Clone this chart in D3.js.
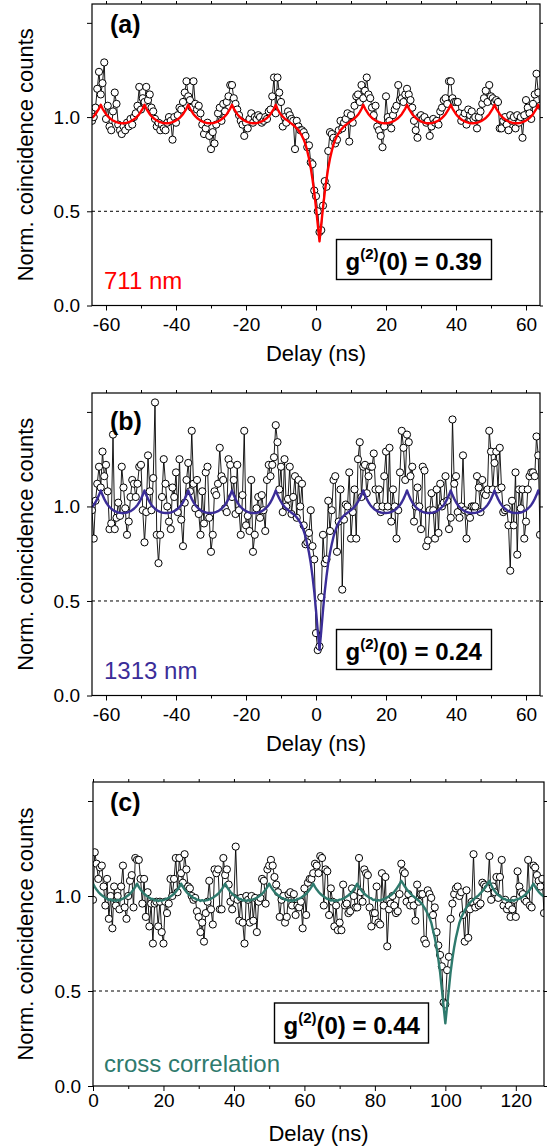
<!DOCTYPE html>
<html>
<head>
<meta charset="utf-8">
<title>g2 correlation</title>
<style>
  html, body { margin: 0; padding: 0; background: #fff; }
  svg { display: block; font-family: "Liberation Sans", Arial, Helvetica, sans-serif; }
</style>
</head>
<body>
<div id="chart"></div>
<script src="https://cdn.jsdelivr.net/npm/d3@7/dist/d3.min.js"></script>
<script>
// bin width of the coincidence histograms (ns)
var DELAY_STEP = 0.5;

// panel (a) 711 nm autocorrelation, delays -64 ... 64 ns
var A_START = -64;
var A_COUNTS = [
  0.98, 1.00, 1.05, 1.15, 1.24, 1.12, 1.18, 1.29,
  0.99, 1.06, 0.95, 0.93, 1.03, 1.13, 1.07, 0.96,
  0.93, 0.91, 0.95, 0.93, 0.97, 0.95, 0.99, 0.96,
  1.00, 1.02, 1.06, 1.16, 1.04, 1.10, 1.08, 1.16,
  1.09, 1.12, 1.05, 1.03, 0.99, 0.95, 0.97, 0.93,
  0.96, 0.94, 0.93, 0.97, 1.00, 0.98, 0.88, 1.00,
  0.97, 1.01, 1.05, 1.04, 1.08, 1.13, 1.19, 1.11,
  1.09, 1.05, 1.19, 1.07, 1.04, 1.06, 1.02, 0.96,
  0.91, 0.94, 0.97, 0.90, 0.83, 0.92, 0.86, 0.96,
  1.02, 1.05, 0.98, 1.07, 1.03, 1.08, 1.11, 1.17,
  1.17, 1.10, 1.07, 1.04, 1.01, 0.98, 0.96, 0.90,
  0.97, 0.94, 0.99, 1.02, 0.97, 1.00, 0.99, 1.01,
  1.00, 0.97, 0.98, 1.00, 0.99, 1.03, 1.04, 1.11,
  1.21, 1.02, 1.21, 1.13, 1.08, 0.95, 1.00, 0.97,
  1.03, 1.01, 0.99, 0.98, 0.83, 0.98, 0.95, 0.93,
  0.93, 0.92, 0.90, 0.84, 0.85, 0.76, 0.75, 0.61,
  0.58, 0.50, 0.39, 0.40, 0.53, 0.66, 0.63, 0.82,
  0.92, 0.91, 0.89, 0.86, 0.88, 0.93, 0.98, 0.94,
  0.97, 0.99, 1.02, 0.87, 1.01, 0.97, 1.06, 1.11,
  1.12, 1.08, 1.17, 1.10, 1.14, 1.21, 1.12, 1.10,
  1.05, 1.01, 1.06, 0.95, 0.93, 0.90, 0.84, 0.95,
  1.11, 1.00, 0.98, 0.94, 1.01, 1.04, 1.06, 1.17,
  1.09, 1.10, 1.08, 1.12, 1.15, 1.12, 1.09, 1.05,
  0.98, 0.93, 0.89, 1.00, 1.01, 0.99, 1.00, 0.97,
  0.98, 0.90, 0.95, 0.99, 0.97, 0.98, 0.96, 1.03,
  1.05, 1.09, 1.10, 1.07, 1.19, 1.19, 1.10, 1.08,
  1.08, 1.08, 1.02, 0.98, 1.00, 1.02, 0.96, 1.04,
  1.01, 1.03, 0.99, 1.00, 0.94, 1.00, 1.03, 1.07,
  1.10, 1.14, 1.08, 1.17, 1.11, 1.10, 1.08, 1.09,
  1.08, 0.94, 0.94, 0.98, 1.00, 0.96, 0.93, 1.01,
  0.98, 1.00, 0.94, 1.01, 0.97, 1.00, 0.89, 1.01,
  1.09, 1.05, 1.02, 0.99, 1.07, 1.12, 1.23, 1.13,
  1.06
];
var A_FIT = [
  0.995, 1.005, 1.015, 1.03, 1.045, 1.065, 1.045, 1.03,
  1.015, 1.005, 0.995, 0.988, 0.982, 0.977, 0.973, 0.97,
  0.968, 0.967, 0.967, 0.968, 0.97, 0.973, 0.977, 0.982,
  0.988, 0.995, 1.005, 1.015, 1.03, 1.045, 1.065, 1.045,
  1.03, 1.015, 1.005, 0.995, 0.988, 0.982, 0.977, 0.973,
  0.97, 0.968, 0.967, 0.967, 0.968, 0.97, 0.973, 0.977,
  0.982, 0.988, 0.995, 1.005, 1.015, 1.03, 1.045, 1.065,
  1.045, 1.03, 1.015, 1.005, 0.995, 0.988, 0.982, 0.977,
  0.973, 0.97, 0.968, 0.967, 0.967, 0.968, 0.97, 0.973,
  0.977, 0.982, 0.988, 0.995, 1.005, 1.015, 1.03, 1.045,
  1.065, 1.045, 1.03, 1.015, 1.005, 0.995, 0.988, 0.982,
  0.977, 0.973, 0.97, 0.968, 0.967, 0.967, 0.968, 0.97,
  0.973, 0.977, 0.982, 0.988, 0.995, 1.005, 1.015, 1.03,
  1.045, 1.065, 1.043, 1.026, 1.012, 1.002, 0.993, 0.986,
  0.98, 0.972, 0.965, 0.958, 0.95, 0.94, 0.93, 0.915,
  0.90, 0.88, 0.855, 0.82, 0.78, 0.73, 0.67, 0.60,
  0.52, 0.43, 0.34, 0.43, 0.52, 0.60, 0.67, 0.73,
  0.78, 0.82, 0.855, 0.88, 0.90, 0.915, 0.93, 0.94,
  0.95, 0.958, 0.965, 0.972, 0.98, 0.986, 0.993, 1.002,
  1.012, 1.026, 1.043, 1.065, 1.045, 1.03, 1.015, 1.005,
  0.995, 0.988, 0.982, 0.977, 0.973, 0.97, 0.968, 0.967,
  0.967, 0.968, 0.97, 0.973, 0.977, 0.982, 0.988, 0.995,
  1.005, 1.015, 1.03, 1.045, 1.065, 1.045, 1.03, 1.015,
  1.005, 0.995, 0.988, 0.982, 0.977, 0.973, 0.97, 0.968,
  0.967, 0.967, 0.968, 0.97, 0.973, 0.977, 0.982, 0.988,
  0.995, 1.005, 1.015, 1.03, 1.045, 1.065, 1.045, 1.03,
  1.015, 1.005, 0.995, 0.988, 0.982, 0.977, 0.973, 0.97,
  0.968, 0.967, 0.967, 0.968, 0.97, 0.973, 0.977, 0.982,
  0.988, 0.995, 1.005, 1.015, 1.03, 1.045, 1.065, 1.045,
  1.03, 1.015, 1.005, 0.995, 0.988, 0.982, 0.977, 0.973,
  0.97, 0.968, 0.967, 0.967, 0.968, 0.97, 0.973, 0.977,
  0.982, 0.988, 0.995, 1.005, 1.015, 1.03, 1.045, 1.065,
  1.045
];

// panel (b) 1313 nm autocorrelation, delays -64 ... 64 ns
var B_START = -64;
var B_COUNTS = [
  0.98, 0.83, 1.03, 1.12, 1.21, 1.10, 1.29, 1.16,
  1.22, 1.08, 0.88, 0.91, 1.38, 0.88, 0.94, 1.02,
  0.95, 1.21, 1.10, 0.99, 0.85, 0.92, 1.05, 1.14,
  1.12, 1.05, 1.12, 1.21, 1.22, 0.98, 0.81, 0.97,
  1.27, 1.08, 0.98, 1.15, 1.55, 0.85, 0.70, 0.85,
  1.05, 1.25, 1.12, 1.00, 0.92, 0.88, 1.10, 1.05,
  1.18, 0.97, 1.25, 0.93, 0.79, 1.02, 1.14, 1.23,
  1.08, 1.40, 1.12, 0.99, 1.14, 0.96, 0.85, 1.08,
  0.91, 1.18, 1.21, 0.94, 0.76, 0.85, 1.08, 1.06,
  1.12, 1.31, 1.16, 1.14, 0.99, 0.97, 1.25, 1.22,
  1.05, 1.14, 0.96, 1.22, 0.98, 0.85, 1.06, 1.40,
  0.90, 0.95, 0.87, 1.14, 0.76, 0.85, 0.99, 1.05,
  0.94, 1.06, 0.98, 0.87, 1.14, 1.22, 1.16, 1.22,
  1.26, 1.43, 1.34, 1.09, 1.21, 0.97, 1.25, 1.00,
  1.04, 1.21, 0.96, 1.05, 1.16, 0.94, 1.14, 1.00,
  1.12, 0.90, 0.80, 0.81, 0.86, 0.98, 0.79, 0.72,
  0.33, 0.24, 0.26, 0.52, 0.85, 0.70, 0.72, 1.03,
  0.87, 0.98, 1.14, 1.16, 0.76, 0.92, 1.09, 0.56,
  0.93, 1.01, 1.00, 1.18, 0.83, 0.97, 1.09, 0.83,
  1.25, 1.34, 1.05, 1.21, 1.22, 1.07, 1.16, 1.21,
  1.21, 1.28, 1.09, 1.00, 1.09, 0.97, 1.00, 1.16,
  1.29, 1.00, 1.31, 0.92, 1.09, 1.00, 0.83, 0.98,
  1.18, 1.40, 1.31, 1.14, 1.38, 1.34, 1.16, 1.21,
  0.92, 1.00, 1.10, 1.00, 0.88, 1.21, 1.19, 0.79,
  0.82, 0.98, 1.07, 0.98, 0.83, 1.09, 0.86, 1.12,
  1.00, 1.02, 1.16, 1.03, 0.88, 0.94, 1.46, 1.12,
  1.16, 0.97, 0.94, 1.00, 1.27, 0.98, 0.83, 0.97,
  0.94, 1.00, 1.00, 1.00, 1.16, 1.10, 0.97, 1.14,
  1.07, 1.06, 1.09, 1.40, 1.29, 1.09, 1.23, 1.29,
  1.09, 1.31, 1.10, 0.97, 0.98, 0.99, 0.90, 0.66,
  1.03, 0.90, 1.18, 0.745, 1.09, 0.99, 1.09, 0.83,
  0.92, 1.09, 1.16, 1.18, 1.18, 1.16, 1.37, 1.27,
  0.85
];
var B_FIT = [
  0.997, 1.008, 1.022, 1.04, 1.06, 1.085, 1.06, 1.04,
  1.022, 1.008, 0.997, 0.988, 0.981, 0.975, 0.971, 0.968,
  0.966, 0.965, 0.965, 0.966, 0.968, 0.971, 0.975, 0.981,
  0.988, 0.997, 1.008, 1.022, 1.04, 1.06, 1.085, 1.06,
  1.04, 1.022, 1.008, 0.997, 0.988, 0.981, 0.975, 0.971,
  0.968, 0.966, 0.965, 0.965, 0.966, 0.968, 0.971, 0.975,
  0.981, 0.988, 0.997, 1.008, 1.022, 1.04, 1.06, 1.085,
  1.06, 1.04, 1.022, 1.008, 0.997, 0.988, 0.981, 0.975,
  0.971, 0.968, 0.966, 0.965, 0.965, 0.966, 0.968, 0.971,
  0.975, 0.981, 0.988, 0.997, 1.008, 1.022, 1.04, 1.06,
  1.085, 1.06, 1.04, 1.022, 1.008, 0.997, 0.988, 0.981,
  0.975, 0.971, 0.968, 0.966, 0.965, 0.965, 0.966, 0.968,
  0.971, 0.975, 0.981, 0.988, 0.997, 1.008, 1.022, 1.04,
  1.06, 1.085, 1.062, 1.042, 1.025, 1.01, 0.998, 0.989,
  0.981, 0.974, 0.967, 0.96, 0.952, 0.942, 0.93, 0.915,
  0.895, 0.87, 0.84, 0.80, 0.755, 0.70, 0.63, 0.55,
  0.45, 0.34, 0.24, 0.34, 0.45, 0.55, 0.63, 0.70,
  0.755, 0.80, 0.84, 0.87, 0.895, 0.915, 0.93, 0.942,
  0.952, 0.96, 0.967, 0.974, 0.981, 0.989, 0.998, 1.01,
  1.025, 1.042, 1.062, 1.085, 1.06, 1.04, 1.022, 1.008,
  0.997, 0.988, 0.981, 0.975, 0.971, 0.968, 0.966, 0.965,
  0.965, 0.966, 0.968, 0.971, 0.975, 0.981, 0.988, 0.997,
  1.008, 1.022, 1.04, 1.06, 1.085, 1.06, 1.04, 1.022,
  1.008, 0.997, 0.988, 0.981, 0.975, 0.971, 0.968, 0.966,
  0.965, 0.965, 0.966, 0.968, 0.971, 0.975, 0.981, 0.988,
  0.997, 1.008, 1.022, 1.04, 1.06, 1.085, 1.06, 1.04,
  1.022, 1.008, 0.997, 0.988, 0.981, 0.975, 0.971, 0.968,
  0.966, 0.965, 0.965, 0.966, 0.968, 0.971, 0.975, 0.981,
  0.988, 0.997, 1.008, 1.022, 1.04, 1.06, 1.085, 1.06,
  1.04, 1.022, 1.008, 0.997, 0.988, 0.981, 0.975, 0.971,
  0.968, 0.966, 0.965, 0.965, 0.966, 0.968, 0.971, 0.975,
  0.981, 0.988, 0.997, 1.008, 1.022, 1.04, 1.06, 1.085,
  1.06
];

// panel (c) cross correlation, delays 0 ... 128 ns
var C_START = 0;
var C_COUNTS = [
  0.98, 1.23, 1.17, 1.09, 1.15, 1.16, 1.05, 0.95,
  1.09, 0.88, 1.00, 0.83, 1.05, 0.95, 1.00, 0.93,
  1.05, 1.16, 0.94, 0.88, 1.00, 1.08, 1.11, 0.94,
  1.20, 1.19, 1.19, 1.09, 0.96, 1.09, 0.89, 1.02,
  0.84, 0.96, 0.75, 0.96, 0.97, 0.84, 0.97, 0.81,
  0.75, 0.97, 0.91, 0.96, 1.09, 1.00, 1.09, 1.20,
  1.02, 1.20, 1.12, 1.07, 1.22, 1.14, 1.05, 1.04,
  1.00, 0.98, 0.99, 0.92, 0.89, 0.81, 0.86, 0.76,
  0.91, 0.97, 1.08, 0.93, 0.85, 1.14, 1.12, 1.14,
  0.93, 0.93, 1.20, 1.11, 1.14, 1.06, 0.97, 0.93,
  0.99, 1.26, 0.98, 0.87, 0.99, 0.86, 0.75, 1.00,
  0.98, 0.86, 1.00, 0.87, 0.99, 0.81, 0.97, 0.99,
  1.09, 1.08, 0.96, 1.14, 1.16, 1.19, 1.16, 1.10,
  1.06, 1.02, 0.89, 0.98, 1.00, 0.86, 0.89, 1.01,
  1.02, 0.95, 1.01, 0.90, 0.95, 0.94, 0.97, 0.83,
  1.04, 0.90, 1.07, 1.09, 1.09, 1.12, 1.17, 1.16,
  1.12, 1.21, 1.20, 0.95, 1.14, 1.13, 0.90, 1.04,
  0.97, 0.84, 0.95, 0.82, 0.86, 0.82, 1.06, 0.95,
  0.96, 0.91, 0.92, 1.04, 1.00, 0.94, 0.94, 1.20,
  1.02, 0.97, 1.14, 1.12, 1.11, 0.94, 0.84, 0.91,
  0.91, 1.05, 0.86, 0.85, 1.12, 0.95, 1.10, 0.735,
  0.93, 0.96, 1.00, 0.95, 0.91, 0.92, 1.01, 1.17,
  1.13, 1.12, 0.97, 1.01, 0.95, 0.98, 0.95, 0.87,
  1.06, 0.97, 1.01, 1.01, 0.77, 0.75, 1.03, 1.01,
  0.99, 0.90, 0.94, 0.81, 0.74, 0.69, 0.63, 0.44,
  0.43, 0.61, 0.68, 0.88, 0.96, 1.01, 1.04, 1.05,
  1.00, 1.02, 0.90, 0.76, 1.03, 0.78, 0.93, 0.97,
  1.22, 0.94, 0.97, 0.95, 0.96, 1.07, 1.06, 1.05,
  1.04, 1.21, 0.98, 1.05, 1.02, 1.10, 0.99, 1.10,
  1.19, 0.95, 0.98, 0.93, 0.95, 0.89, 0.93, 0.98,
  0.89, 1.13, 1.05, 1.02, 1.01, 0.98, 0.97, 1.19,
  0.95, 0.94, 1.16, 1.15, 1.11, 1.08, 1.05, 1.09,
  0.91
];
var C_FIT = [
  1.065, 1.048, 1.034, 1.022, 1.012, 1.004, 0.997, 0.991,
  0.986, 0.979, 0.983, 0.975, 0.979, 0.973, 0.98, 0.976,
  0.982, 0.986, 0.991, 0.997, 1.004, 1.012, 1.022, 1.034,
  1.048, 1.065, 1.048, 1.034, 1.022, 1.012, 1.004, 0.997,
  0.991, 0.984, 0.985, 0.976, 0.98, 0.973, 0.978, 0.975,
  0.979, 0.982, 0.986, 0.991, 0.997, 1.004, 1.012, 1.022,
  1.034, 1.048, 1.065, 1.048, 1.034, 1.022, 1.012, 1.004,
  0.997, 0.99, 0.987, 0.98, 0.981, 0.974, 0.978, 0.974,
  0.977, 0.979, 0.982, 0.986, 0.991, 0.997, 1.004, 1.012,
  1.022, 1.034, 1.048, 1.065, 1.048, 1.034, 1.022, 1.012,
  1.004, 0.997, 0.991, 0.984, 0.984, 0.976, 0.979, 0.973,
  0.978, 0.975, 0.981, 0.982, 0.986, 0.991, 0.997, 1.004,
  1.012, 1.022, 1.034, 1.048, 1.065, 1.048, 1.034, 1.022,
  1.012, 1.004, 0.997, 0.99, 0.988, 0.979, 0.981, 0.974,
  0.978, 0.973, 0.979, 0.977, 0.984, 0.986, 0.991, 0.997,
  1.004, 1.012, 1.022, 1.034, 1.048, 1.065, 1.048, 1.034,
  1.022, 1.012, 1.004, 0.997, 0.991, 0.984, 0.984, 0.976,
  0.979, 0.973, 0.978, 0.975, 0.981, 0.982, 0.986, 0.991,
  0.997, 1.004, 1.012, 1.022, 1.034, 1.048, 1.065, 1.048,
  1.034, 1.022, 1.012, 1.004, 0.997, 0.99, 0.988, 0.979,
  0.981, 0.974, 0.978, 0.976, 0.981, 0.983, 0.988, 0.993,
  0.998, 1.004, 1.012, 1.022, 1.034, 1.048, 1.062, 1.08,
  1.065, 1.05, 1.037, 1.025, 1.015, 1.005, 0.997, 0.99,
  0.982, 0.975, 0.965, 0.955, 0.94, 0.925, 0.905, 0.885,
  0.86, 0.82, 0.78, 0.73, 0.67, 0.60, 0.51, 0.42,
  0.33, 0.42, 0.51, 0.60, 0.67, 0.73, 0.78, 0.82,
  0.86, 0.885, 0.905, 0.925, 0.94, 0.955, 0.965, 0.975,
  0.982, 0.99, 0.997, 1.005, 1.015, 1.025, 1.037, 1.05,
  1.065, 1.08, 1.058, 1.04, 1.026, 1.014, 1.005, 0.998,
  0.991, 0.984, 0.984, 0.976, 0.979, 0.973, 0.978, 0.975,
  0.981, 0.982, 0.986, 0.991, 0.997, 1.004, 1.012, 1.022,
  1.034, 1.048, 1.065, 1.048, 1.034, 1.022, 1.012, 1.004,
  0.997
];

var X_DOMAIN_AB = [-64, 64];
var X_TICKS_AB = [-60, -40, -20, 0, 20, 40, 60];
var X_MINOR_AB = [-50, -30, -10, 10, 30, 50];
var X_DOMAIN_C = [0, 128];
var X_TICKS_C = [0, 20, 40, 60, 80, 100, 120];
var X_MINOR_C = [10, 30, 50, 70, 90, 110];
var Y_DOMAIN = [0, 1.6];
var Y_TICKS = [0, 0.5, 1.0, 1.5];
var Y_TICK_LABELS = ["0.0", "0.5", "1.0", ""];
var PANEL_LABELS = ["(a)", "(b)", "(c)"];
var LEGEND_TEXT = ["711 nm", "1313 nm", "cross correlation"];
var G2_VALUES = ["0.39", "0.24", "0.44"];
var X_TITLE = "Delay (ns)";
var Y_TITLE = "Norm. coincidence counts";

(function () {
  "use strict";

  var WIDTH = 547;
  var HEIGHT = 1148;
  var TICK_FONT = 19;
  var TITLE_FONT = 22;

  var PANELS = [
    { key: "a", start: A_START, counts: A_COUNTS, fit: A_FIT, domain: X_DOMAIN_AB, ticks: X_TICKS_AB, minor: X_MINOR_AB,
      left: 92, right: 540, top: 4, bottom: 305.5, color: "#ff0000", labelY: 33, legendY: 289,
      box: [336.5, 239.5, 155, 40], g2Base: 270, xPad: 7.5 },
    { key: "b", start: B_START, counts: B_COUNTS, fit: B_FIT, domain: X_DOMAIN_AB, ticks: X_TICKS_AB, minor: X_MINOR_AB,
      left: 92, right: 540, top: 393, bottom: 695.5, color: "#3b2d98", labelY: 430, legendY: 679,
      box: [336.5, 629.5, 155, 40], g2Base: 660, xPad: 7.5 },
    { key: "c", start: C_START, counts: C_COUNTS, fit: C_FIT, domain: X_DOMAIN_C, ticks: X_TICKS_C, minor: X_MINOR_C,
      left: 93, right: 544, top: 782, bottom: 1086, color: "#2e7a6d", labelY: 810.5, legendY: 1072,
      box: [274.5, 1003, 154, 40], g2Base: 1033.5, xPad: 2.5 }
  ];

  function styleAxis(sel) {
    sel.select(".domain").remove();
    sel.selectAll(".tick line").attr("stroke", "#000").attr("stroke-width", 1);
    sel.selectAll(".tick text")
      .attr("fill", "#000")
      .style("font-size", TICK_FONT + "px")
      .style("font-family", "\"Liberation Sans\", Arial, sans-serif");
  }

  function drawPanel(svg, p, idx) {
    var x = d3.scaleLinear().domain(p.domain).range([p.left, p.right]);
    var y = d3.scaleLinear().domain(Y_DOMAIN).range([p.bottom, p.top]);
    var g = svg.append("g").attr("class", "panel panel-" + p.key);

    var clipId = "plot-clip-" + p.key;
    svg.append("defs").append("clipPath").attr("id", clipId)
      .append("rect")
      .attr("x", p.left).attr("y", p.top)
      .attr("width", p.right - p.left).attr("height", p.bottom - p.top);

    // reference line at 0.5
    g.append("line")
      .attr("x1", p.left).attr("x2", p.right)
      .attr("y1", y(0.5)).attr("y2", y(0.5))
      .attr("stroke", "#000").attr("stroke-width", 1)
      .attr("stroke-dasharray", "3,3");

    var pts = p.counts.map(function (v, i) { return { t: p.start + i * DELAY_STEP, v: v }; });
    var fitPts = p.fit.map(function (v, i) { return { t: p.start + i * DELAY_STEP, v: v }; });
    var line = d3.line()
      .x(function (d) { return x(d.t); })
      .y(function (d) { return y(d.v); });

    var plot = g.append("g").attr("clip-path", "url(#" + clipId + ")");
    plot.append("path")
      .datum(pts)
      .attr("d", line)
      .attr("fill", "none")
      .attr("stroke", "#000")
      .attr("stroke-width", 0.9);
    plot.selectAll("circle")
      .data(pts)
      .join("circle")
      .attr("cx", function (d) { return x(d.t); })
      .attr("cy", function (d) { return y(d.v); })
      .attr("r", 3.6)
      .attr("fill", "#fff")
      .attr("stroke", "#000")
      .attr("stroke-width", 1);
    plot.append("path")
      .datum(fitPts)
      .attr("d", line)
      .attr("fill", "none")
      .attr("stroke", p.color)
      .attr("stroke-width", 2.4)
      .attr("stroke-linejoin", "round");

    // axes
    var fmtX = function (d) { return String(d); };
    var bottomMajor = g.append("g").attr("transform", "translate(0," + p.bottom + ")")
      .call(d3.axisBottom(x).tickValues(p.ticks).tickSize(5).tickPadding(p.xPad).tickFormat(fmtX));
    styleAxis(bottomMajor);
    var bottomMinor = g.append("g").attr("transform", "translate(0," + p.bottom + ")")
      .call(d3.axisBottom(x).tickValues(p.minor).tickSize(3).tickFormat(""));
    styleAxis(bottomMinor);
    var topAxis = g.append("g").attr("transform", "translate(0," + p.top + ")")
      .call(d3.axisTop(x).tickValues(p.ticks.concat(p.minor)).tickSize(3).tickFormat(""));
    styleAxis(topAxis);
    var leftAxis = g.append("g").attr("transform", "translate(" + p.left + ",0)")
      .call(d3.axisLeft(y).tickValues(Y_TICKS).tickSize(5).tickPadding(7)
        .tickFormat(function (d, i) { return Y_TICK_LABELS[i]; }));
    styleAxis(leftAxis);
    var rightAxis = g.append("g").attr("transform", "translate(" + p.right + ",0)")
      .call(d3.axisRight(y).tickValues(Y_TICKS).tickSize(3).tickFormat(""));
    styleAxis(rightAxis);

    // frame
    g.append("rect")
      .attr("x", p.left).attr("y", p.top)
      .attr("width", p.right - p.left).attr("height", p.bottom - p.top)
      .attr("fill", "none").attr("stroke", "#000").attr("stroke-width", 1.2);

    // axis titles
    g.append("text")
      .attr("x", (p.left + p.right) / 2)
      .attr("y", p.bottom + 55)
      .attr("text-anchor", "middle")
      .attr("font-size", TITLE_FONT)
      .attr("fill", "#000")
      .text(X_TITLE);
    g.append("text")
      .attr("transform", "translate(33," + ((p.top + p.bottom) / 2) + ") rotate(-90)")
      .attr("text-anchor", "middle")
      .attr("font-size", TITLE_FONT)
      .attr("fill", "#000")
      .text(Y_TITLE);

    // panel letter and legend
    g.append("text")
      .attr("x", 110).attr("y", p.labelY)
      .attr("font-size", 25).attr("font-weight", "bold")
      .attr("fill", "#000")
      .text(PANEL_LABELS[idx]);
    g.append("text")
      .attr("x", 104).attr("y", p.legendY)
      .attr("font-size", 24)
      .attr("fill", p.color)
      .text(LEGEND_TEXT[idx]);

    // g2(0) box
    g.append("rect")
      .attr("x", p.box[0]).attr("y", p.box[1])
      .attr("width", p.box[2]).attr("height", p.box[3])
      .attr("fill", "#fff").attr("stroke", "#000").attr("stroke-width", 1.4);
    var t = g.append("text")
      .attr("x", p.box[0] + 9).attr("y", p.g2Base)
      .attr("font-size", 24).attr("font-weight", "bold")
      .attr("fill", "#000");
    t.append("tspan").text("g");
    t.append("tspan").attr("font-size", 15).attr("dy", -11).text("(2)");
    t.append("tspan").attr("dy", 11).text("(0) = " + G2_VALUES[idx]);
  }

  function init() {
    var svg = d3.select("#chart")
      .append("svg")
      .attr("width", WIDTH)
      .attr("height", HEIGHT)
      .attr("viewBox", [0, 0, WIDTH, HEIGHT]);
    svg.append("rect").attr("width", WIDTH).attr("height", HEIGHT).attr("fill", "#fff");
    PANELS.forEach(function (p, i) { drawPanel(svg, p, i); });
  }

  init();
})();
</script>
</body>
</html>
